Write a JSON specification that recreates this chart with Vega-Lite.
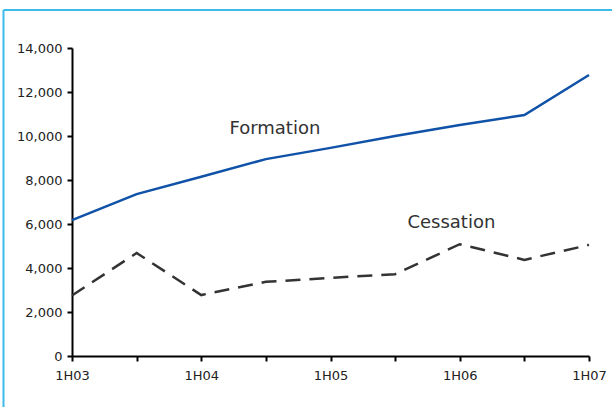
{
  "$schema": "https://vega.github.io/schema/vega-lite/v6.json",
  "width": 517,
  "height": 308,
  "padding": {"left": 72, "top": 48, "right": 23, "bottom": 51},
  "autosize": {"type": "none"},
  "background": "white",
  "config": {
    "view": {"stroke": null},
    "font": "DejaVu Sans",
    "axis": {
      "domainColor": "#000000",
      "domainWidth": 2,
      "tickColor": "#000000",
      "tickWidth": 2,
      "tickSize": 5,
      "labelFont": "DejaVu Sans",
      "labelFontSize": 13,
      "labelColor": "#222222",
      "labelFlush": false,
      "grid": false,
      "title": null
    }
  },
  "datasets": {
    "series": [
      {"period": "1H03", "idx": 0, "series": "Formation", "value": 6180},
      {"period": "2H03", "idx": 1, "series": "Formation", "value": 7360},
      {"period": "1H04", "idx": 2, "series": "Formation", "value": 8150},
      {"period": "2H04", "idx": 3, "series": "Formation", "value": 8950},
      {"period": "1H05", "idx": 4, "series": "Formation", "value": 9460},
      {"period": "2H05", "idx": 5, "series": "Formation", "value": 10000},
      {"period": "1H06", "idx": 6, "series": "Formation", "value": 10500},
      {"period": "2H06", "idx": 7, "series": "Formation", "value": 10950},
      {"period": "1H07", "idx": 8, "series": "Formation", "value": 12770},
      {"period": "1H03", "idx": 0, "series": "Cessation", "value": 2750},
      {"period": "2H03", "idx": 1, "series": "Cessation", "value": 4680},
      {"period": "1H04", "idx": 2, "series": "Cessation", "value": 2770},
      {"period": "2H04", "idx": 3, "series": "Cessation", "value": 3370},
      {"period": "1H05", "idx": 4, "series": "Cessation", "value": 3550},
      {"period": "2H05", "idx": 5, "series": "Cessation", "value": 3720},
      {"period": "1H06", "idx": 6, "series": "Cessation", "value": 5080},
      {"period": "2H06", "idx": 7, "series": "Cessation", "value": 4370},
      {"period": "1H07", "idx": 8, "series": "Cessation", "value": 5050}
    ],
    "labels": [
      {"text": "Formation", "idx": 3.14, "value": 10320},
      {"text": "Cessation", "idx": 5.87, "value": 6050}
    ]
  },
  "layer": [
    {
      "data": {"name": "series"},
      "transform": [{"filter": "datum.series === 'Formation'"}],
      "mark": {"type": "line", "color": "#0F52A8", "strokeWidth": 2.5},
      "encoding": {
        "x": {
          "field": "idx",
          "type": "quantitative",
          "scale": {"domain": [0, 8], "nice": false, "zero": false},
          "axis": {
            "values": [0, 1, 2, 3, 4, 5, 6, 7, 8],
            "labelExpr": "datum.value % 2 === 0 ? '1H0' + (3 + datum.value / 2) : ''",
            "labelPadding": 8,
            "labelBound": false,
            "labelOverlap": false
          }
        },
        "y": {
          "field": "value",
          "type": "quantitative",
          "scale": {"domain": [0, 14000], "nice": false},
          "axis": {"values": [0, 2000, 4000, 6000, 8000, 10000, 12000, 14000], "format": ",.0f", "labelPadding": 5}
        }
      }
    },
    {
      "data": {"name": "series"},
      "transform": [{"filter": "datum.series === 'Cessation'"}],
      "mark": {"type": "line", "color": "#333333", "strokeWidth": 2.5, "strokeDash": [15, 9]},
      "encoding": {
        "x": {"field": "idx", "type": "quantitative"},
        "y": {"field": "value", "type": "quantitative"}
      }
    },
    {
      "data": {"name": "labels"},
      "mark": {"type": "text", "fontSize": 18, "color": "#333333", "align": "center", "baseline": "middle", "font": "DejaVu Sans"},
      "encoding": {
        "x": {"field": "idx", "type": "quantitative"},
        "y": {"field": "value", "type": "quantitative"},
        "text": {"field": "text"}
      }
    },
    {
      "data": {"values": [{}]},
      "mark": {"type": "rule", "color": "#3BBCEB", "strokeWidth": 2},
      "encoding": {
        "x": {"datum": -1.06, "type": "quantitative"},
        "x2": {"datum": 8.4},
        "y": {"datum": 15727, "type": "quantitative"}
      }
    },
    {
      "data": {"values": [{}]},
      "mark": {"type": "rule", "color": "#3BBCEB", "strokeWidth": 2},
      "encoding": {
        "x": {"datum": -1.06, "type": "quantitative"},
        "y": {"datum": 15727, "type": "quantitative"},
        "y2": {"datum": -2400}
      }
    }
  ]
}
